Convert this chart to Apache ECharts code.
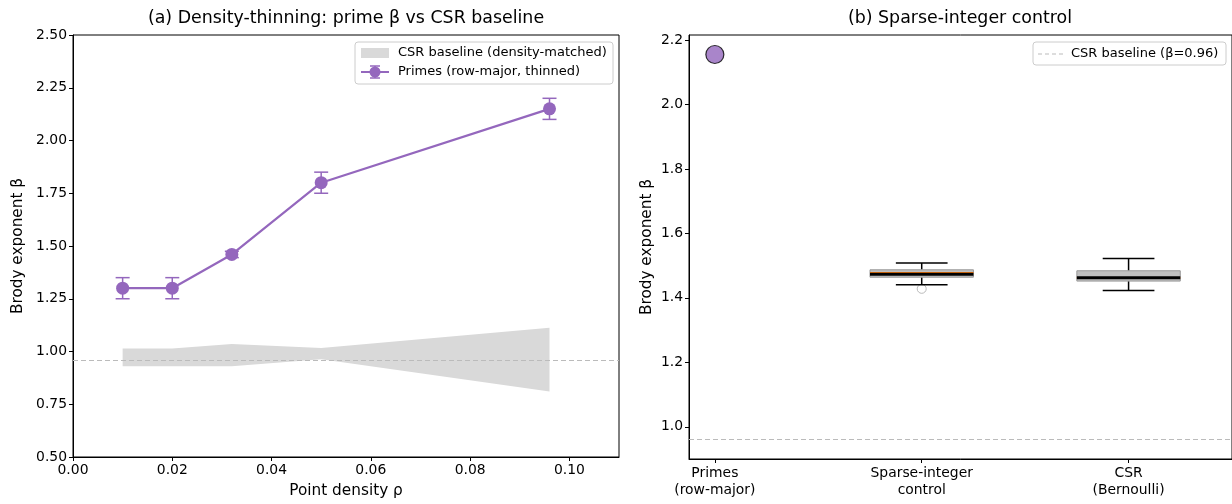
<!DOCTYPE html>
<html>
<head>
<meta charset="utf-8">
<script src="https://cdn.jsdelivr.net/npm/echarts@6/dist/echarts.min.js"></script>
<style>
  html, body { margin: 0; padding: 0; background: #fff; }
  #chart { width: 1232px; height: 504px; }
</style>
</head>
<body>
<div id="chart"></div>
<script>
// panel (a): density thinning
const primesRho = [0.01, 0.02, 0.032, 0.05, 0.096]
const primesBeta = [1.30, 1.30, 1.46, 1.80, 2.15]
const primesErr = [0.05, 0.05, 0.015, 0.05, 0.05]
const csrRho = [0.01, 0.02, 0.032, 0.05, 0.096]
const csrLow = [0.93, 0.93, 0.93, 0.963, 0.81]
const csrHigh = [1.014, 1.014, 1.036, 1.016, 1.113]
const csrBeta = 0.96
const rhoTicks = [0, 0.02, 0.04, 0.06, 0.08, 0.10]

// panel (b): sparse-integer control
const groupNames = ['Primes\n(row-major)', 'Sparse-integer\ncontrol', 'CSR\n(Bernoulli)']
const primesPoint = 2.155
// [position, lower whisker, q1, median, q3, upper whisker, mean]
const boxStats = [
  [1, 1.441, 1.464, 1.478, 1.487, 1.508, 1.473],
  [2, 1.423, 1.452, 1.462, 1.484, 1.522, 1.462]
]
const outliers = [[1, 1.428]]
const betaTicksB = [1.0, 1.2, 1.4, 1.6, 1.8, 2.0, 2.2]

const purple = '#9467bd'
const font = 'DejaVu Sans'
const tickSize = 13.9
const nameSize = 15.3
const legendSize = 13
const titleSize = 17.4

const chart = echarts.init(document.getElementById('chart'))

const axisCommon = {
  axisLine: { show: true, onZero: false, lineStyle: { color: '#000', width: 1 } },
  axisTick: { show: true, length: 4, lineStyle: { color: '#000' } },
  axisLabel: { color: '#000', fontFamily: font, fontSize: tickSize, margin: 6 },
  splitLine: { show: false }
}
const nameStyle = { color: '#000', fontSize: nameSize, fontFamily: font }

chart.setOption({
  animation: false,
  textStyle: { fontFamily: font },
  grid: [
    { left: 73, top: 35, width: 546, height: 424, show: true, borderColor: '#000', borderWidth: 1, backgroundColor: 'transparent' },
    { left: 689, top: 35, width: 545, height: 424, show: true, borderColor: '#000', borderWidth: 1, backgroundColor: 'transparent' }
  ],
  xAxis: [
    Object.assign({}, axisCommon, {
      type: 'value', gridIndex: 0, min: 0, max: 0.11,
      name: 'Point density ρ', nameLocation: 'middle', nameGap: 27,
      nameTextStyle: nameStyle,
      axisTick: Object.assign({}, axisCommon.axisTick, { customValues: rhoTicks }),
      axisLabel: Object.assign({}, axisCommon.axisLabel, {
        customValues: rhoTicks,
        formatter: v => v.toFixed(2)
      })
    }),
    Object.assign({}, axisCommon, {
      type: 'value', gridIndex: 1, min: -0.125, max: 2.5,
      axisTick: Object.assign({}, axisCommon.axisTick, { customValues: [0, 1, 2] }),
      axisLabel: Object.assign({}, axisCommon.axisLabel, {
        customValues: [0, 1, 2],
        lineHeight: 17,
        formatter: v => groupNames[Math.round(v)]
      })
    })
  ],
  yAxis: [
    Object.assign({}, axisCommon, {
      type: 'value', gridIndex: 0, min: 0.5, max: 2.5, interval: 0.25,
      name: 'Brody exponent β', nameLocation: 'middle', nameGap: 47,
      nameTextStyle: nameStyle,
      axisLabel: Object.assign({}, axisCommon.axisLabel, { formatter: v => v.toFixed(2) })
    }),
    Object.assign({}, axisCommon, {
      type: 'value', gridIndex: 1, min: 0.9, max: 2.2155,
      name: 'Brody exponent β', nameLocation: 'middle', nameGap: 34,
      nameTextStyle: nameStyle,
      axisTick: Object.assign({}, axisCommon.axisTick, { customValues: betaTicksB }),
      axisLabel: Object.assign({}, axisCommon.axisLabel, {
        customValues: betaTicksB,
        formatter: v => v.toFixed(1)
      })
    })
  ],
  series: [
    {
      // CSR band
      type: 'custom',
      xAxisIndex: 0, yAxisIndex: 0,
      data: csrRho.map((r, i) => [r, csrLow[i], csrHigh[i]]),
      renderItem(params, api) {
        if (params.dataIndex !== 0) return null
        const top = csrRho.map((r, i) => api.coord([r, csrHigh[i]]))
        const bot = csrRho.map((r, i) => api.coord([r, csrLow[i]])).reverse()
        return {
          type: 'polygon',
          shape: { points: top.concat(bot) },
          style: { fill: '#d9d9d9' }
        }
      },
      z: 1,
      markLine: {
        silent: true, symbol: 'none', label: { show: false },
        lineStyle: { color: '#bbbbbb', type: [5, 3], width: 1 },
        data: [{ yAxis: csrBeta }]
      }
    },
    {
      // primes error bars
      type: 'custom',
      xAxisIndex: 0, yAxisIndex: 0,
      data: primesRho.map((r, i) => [r, primesBeta[i] - primesErr[i], primesBeta[i] + primesErr[i]]),
      renderItem(params, api) {
        const lo = api.coord([api.value(0), api.value(1)])
        const hi = api.coord([api.value(0), api.value(2)])
        const st = { stroke: purple, lineWidth: 1.5 }
        return {
          type: 'group',
          children: [
            { type: 'line', shape: { x1: lo[0], y1: lo[1], x2: hi[0], y2: hi[1] }, style: st },
            { type: 'line', shape: { x1: lo[0] - 7, y1: lo[1], x2: lo[0] + 7, y2: lo[1] }, style: st },
            { type: 'line', shape: { x1: hi[0] - 7, y1: hi[1], x2: hi[0] + 7, y2: hi[1] }, style: st }
          ]
        }
      },
      z: 3
    },
    {
      type: 'line',
      xAxisIndex: 0, yAxisIndex: 0,
      data: primesRho.map((r, i) => [r, primesBeta[i]]),
      symbol: 'circle', symbolSize: 13,
      lineStyle: { color: purple, width: 2.2 },
      itemStyle: { color: purple },
      z: 4
    },
    {
      // box plots
      type: 'custom',
      xAxisIndex: 1, yAxisIndex: 1,
      data: boxStats,
      renderItem(params, api) {
        const x = api.value(0)
        const half = api.size([0.25, 0])[0]
        const cap = api.size([0.125, 0])[0]
        const p = k => api.coord([x, api.value(k)])
        const lw = p(1), q1 = p(2), med = p(3), q3 = p(4), uw = p(5), mean = p(6)
        const cx = lw[0]
        const blk = { stroke: '#000', lineWidth: 1.5 }
        return {
          type: 'group',
          children: [
            { type: 'line', shape: { x1: cx, y1: uw[1], x2: cx, y2: q3[1] }, style: blk },
            { type: 'line', shape: { x1: cx, y1: lw[1], x2: cx, y2: q1[1] }, style: blk },
            { type: 'line', shape: { x1: cx - cap, y1: uw[1], x2: cx + cap, y2: uw[1] }, style: blk },
            { type: 'line', shape: { x1: cx - cap, y1: lw[1], x2: cx + cap, y2: lw[1] }, style: blk },
            { type: 'rect', shape: { x: cx - half, y: q3[1], width: half * 2, height: q1[1] - q3[1] },
              style: { fill: '#c0c0c0', stroke: '#999', lineWidth: 1 } },
            { type: 'line', shape: { x1: cx - half, y1: med[1], x2: cx + half, y2: med[1] },
              style: { stroke: '#ff7f0e', lineWidth: 1.5 } },
            { type: 'line', shape: { x1: cx - half, y1: mean[1], x2: cx + half, y2: mean[1] },
              style: { stroke: '#000', lineWidth: 3 } }
          ]
        }
      },
      z: 3,
      markLine: {
        silent: true, symbol: 'none', label: { show: false },
        lineStyle: { color: '#bbbbbb', type: [5, 3], width: 1 },
        data: [{ yAxis: csrBeta }]
      }
    },
    {
      type: 'scatter',
      xAxisIndex: 1, yAxisIndex: 1,
      data: outliers,
      symbol: 'circle', symbolSize: 9,
      itemStyle: { color: '#fff', borderColor: '#aaa', borderWidth: 1 },
      z: 2
    },
    {
      type: 'scatter',
      xAxisIndex: 1, yAxisIndex: 1,
      data: [[0, primesPoint]],
      symbol: 'circle', symbolSize: 18,
      itemStyle: { color: purple, borderColor: '#000', borderWidth: 1.2 },
      z: 4
    }
  ],
  graphic: [
    { type: 'text', x: 346, y: 18, style: { text: '(a) Density-thinning: prime β vs CSR baseline', fontFamily: font, fontSize: titleSize, fill: '#000', align: 'center', verticalAlign: 'middle' } },
    // left legend
    { type: 'rect', shape: { x: 355, y: 42, width: 258, height: 42, r: 3 }, style: { fill: 'rgba(255,255,255,0.8)', stroke: '#ccc', lineWidth: 1 }, z: 10 },
    { type: 'rect', shape: { x: 361, y: 48, width: 28, height: 10 }, style: { fill: '#d9d9d9' }, z: 11 },
    { type: 'text', x: 398, y: 53, style: { text: 'CSR baseline (density-matched)', fontFamily: font, fontSize: legendSize, fill: '#000', verticalAlign: 'middle' }, z: 11 },
    { type: 'line', shape: { x1: 361, y1: 72, x2: 389, y2: 72 }, style: { stroke: purple, lineWidth: 2 }, z: 11 },
    { type: 'line', shape: { x1: 375, y1: 66, x2: 375, y2: 78 }, style: { stroke: purple, lineWidth: 1.5 }, z: 11 },
    { type: 'line', shape: { x1: 370, y1: 66, x2: 380, y2: 66 }, style: { stroke: purple, lineWidth: 1.5 }, z: 11 },
    { type: 'line', shape: { x1: 370, y1: 78, x2: 380, y2: 78 }, style: { stroke: purple, lineWidth: 1.5 }, z: 11 },
    { type: 'circle', shape: { cx: 375, cy: 72, r: 5.5 }, style: { fill: purple }, z: 11 },
    { type: 'text', x: 398, y: 72, style: { text: 'Primes (row-major, thinned)', fontFamily: font, fontSize: legendSize, fill: '#000', verticalAlign: 'middle' }, z: 11 },
    // right panel
    { type: 'text', x: 960, y: 18, style: { text: '(b) Sparse-integer control', fontFamily: font, fontSize: titleSize, fill: '#000', align: 'center', verticalAlign: 'middle' } },
    { type: 'rect', shape: { x: 1033, y: 42, width: 193, height: 23, r: 3 }, style: { fill: 'rgba(255,255,255,0.8)', stroke: '#ccc', lineWidth: 1 }, z: 10 },
    { type: 'line', shape: { x1: 1038, y1: 54, x2: 1063, y2: 54 }, style: { stroke: '#bbbbbb', lineWidth: 1, lineDash: [4, 3] }, z: 11 },
    { type: 'text', x: 1071, y: 54, style: { text: 'CSR baseline (β=0.96)', fontFamily: font, fontSize: legendSize, fill: '#000', verticalAlign: 'middle' }, z: 11 }
  ]
})
</script>
</body>
</html>
